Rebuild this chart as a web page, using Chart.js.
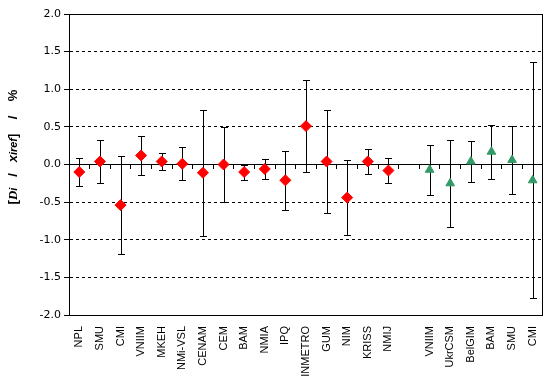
<!DOCTYPE html>
<html>
<head>
<meta charset="utf-8">
<script src="https://cdn.jsdelivr.net/npm/chart.js@4"></script>
<style>
  html, body { margin: 0; padding: 0; background: #fff; }
  #wrap { width: 557px; height: 384px; }
</style>
</head>
<body>
<div id="wrap"><canvas id="myChart" width="557" height="384"></canvas></div>
<script>
// categories (empty slot separates the two groups)
var labels = ['NPL', 'SMU', 'CMI', 'VNIIM', 'MKEH', 'NMi-VSL', 'CENAM', 'CEM', 'BAM', 'NMIA', 'IPQ',
    'INMETRO', 'GUM', 'NIM', 'KRISS', 'NMIJ', '', 'VNIIM', 'UkrCSM', 'BelGIM', 'BAM', 'SMU', 'CMI'];

// first group (red diamonds): Di/xiref in %, and expanded uncertainty
var redValues = [-0.10, 0.04, -0.54, 0.12, 0.04, 0.01, -0.11, 0.00, -0.10, -0.06, -0.21, 0.51, 0.04, -0.44, 0.04, -0.08];
var redU      = [0.19, 0.28, 0.65, 0.26, 0.11, 0.22, 0.84, 0.50, 0.10, 0.13, 0.39, 0.61, 0.69, 0.50, 0.17, 0.17];

// second group (green triangles)
var greenValues = [-0.07, -0.25, 0.04, 0.17, 0.06, -0.21];
var greenU      = [0.33, 0.58, 0.27, 0.36, 0.45, 1.57];

var yTicks = [-2.0, -1.5, -1.0, -0.5, 0.0, 0.5, 1.0, 1.5, 2.0];

// pad series out to the full category list
function pad(before, arr, after) {
    var out = [];
    for (var i = 0; i < before; i++) out.push(null);
    out = out.concat(arr);
    for (var j = 0; j < after; j++) out.push(null);
    return out;
}
var nGreenStart = labels.length - greenValues.length;

var errorBars = {
    id: 'errorBars',
    beforeDatasetsDraw: function(chart) {
        var ctx = chart.ctx;
        var y = chart.scales.y;
        ctx.save();
        ctx.strokeStyle = '#000';
        ctx.lineWidth = 1;
        chart.data.datasets.forEach(function(ds, di) {
            var meta = chart.getDatasetMeta(di);
            ds.data.forEach(function(v, i) {
                if (v === null) return;
                var u = ds.errors[i];
                var px = Math.round(meta.data[i].x) + 0.5;
                var top = Math.round(y.getPixelForValue(v + u)) + 0.5;
                var bot = Math.round(y.getPixelForValue(v - u)) + 0.5;
                ctx.beginPath();
                ctx.moveTo(px, top); ctx.lineTo(px, bot);
                ctx.moveTo(px - 3.5, top); ctx.lineTo(px + 3.5, top);
                ctx.moveTo(px - 3.5, bot); ctx.lineTo(px + 3.5, bot);
                ctx.stroke();
            });
        });
        ctx.restore();
    },
    afterDraw: function(chart) {
        var ctx = chart.ctx;
        var a = chart.chartArea;
        ctx.save();
        // frame round the plot area
        ctx.strokeStyle = '#000';
        ctx.lineWidth = 1;
        ctx.strokeRect(Math.round(a.left) + 0.5, Math.round(a.top) + 0.5,
            Math.round(a.right - a.left) - 1, Math.round(a.bottom - a.top));
        // y axis title with italic parts
        var parts = [
            ['[', 'bold 13px "Liberation Sans"'],
            ['D', 'italic bold 13px "Liberation Serif"'],
            ['i', 'italic bold 11px "Liberation Sans"'],
            ['   /   ', 'bold 13px "Liberation Sans"'],
            ['x', 'italic bold 13px "Liberation Sans"'],
            ['iref', 'italic bold 11px "Liberation Sans"'],
            [']    /    %', 'bold 13px "Liberation Sans"']
        ];
        var total = 0;
        parts.forEach(function(p) { ctx.font = p[1]; total += ctx.measureText(p[0]).width; });
        ctx.translate(17, 147);
        ctx.rotate(-Math.PI / 2);
        ctx.fillStyle = '#000';
        ctx.textBaseline = 'alphabetic';
        var xx = -total / 2;
        parts.forEach(function(p) {
            ctx.font = p[1];
            ctx.fillText(p[0], xx, 0);
            xx += ctx.measureText(p[0]).width;
        });
        ctx.restore();
    }
};

var ctx = document.getElementById('myChart');
new Chart(ctx, {
    type: 'line',
    data: {
        labels: labels,
        datasets: [{
            data: pad(0, redValues, labels.length - redValues.length),
            errors: pad(0, redU, labels.length - redU.length),
            showLine: false,
            pointStyle: 'rectRot',
            pointRadius: 5.5,
            pointBackgroundColor: '#ff0000',
            pointBorderColor: '#ff0000',
            pointBorderWidth: 1
        }, {
            data: pad(nGreenStart, greenValues, 0),
            errors: pad(nGreenStart, greenU, 0),
            showLine: false,
            pointStyle: 'triangle',
            pointRadius: 5,
            pointBackgroundColor: '#339966',
            pointBorderColor: '#339966',
            pointBorderWidth: 1
        }]
    },
    options: {
        responsive: false,
        animation: false,
        layout: { padding: { top: 14, right: 5, left: 0, bottom: 0 } },
        plugins: { legend: { display: false }, tooltip: { enabled: false } },
        scales: {
            x: {
                type: 'category',
                offset: true,
                grid: { display: false, drawTicks: false },
                border: { display: true, color: '#000' },
                ticks: {
                    autoSkip: false, minRotation: 90, maxRotation: 90, padding: 11,
                    color: '#000', font: { family: 'Liberation Sans', size: 11 }
                },
                afterFit: function(s) { s.height = 69; }
            },
            xz: {
                type: 'category',
                labels: labels,
                offset: true,
                position: { y: 0 },
                grid: { offset: true, drawOnChartArea: false, tickLength: 4, color: '#000' },
                border: { display: true, color: '#000' },
                ticks: { display: false }
            },
            y: {
                min: -2, max: 2,
                afterBuildTicks: function(s) { s.ticks = yTicks.map(function(v) { return { value: v }; }); },
                grid: { color: '#000', tickLength: 5, tickColor: '#000', tickBorderDash: [] },
                border: { display: true, color: '#000', dash: [3, 3] },
                ticks: {
                    padding: 3, color: '#000',
                    font: { family: 'DejaVu Sans', size: 11 },
                    callback: function(v) { return v.toFixed(1); }
                },
                afterFit: function(s) { s.width = 69; }
            }
        }
    },
    plugins: [errorBars]
});
</script>
</body>
</html>
